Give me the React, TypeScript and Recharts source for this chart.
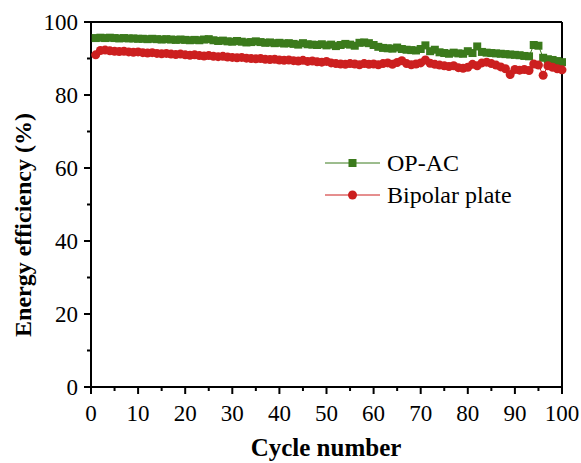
import { LineChart, Line, XAxis, YAxis, ReferenceLine } from "recharts";

const cycles = Array.from({ length: 100 }, (_, i) => i + 1);

const opAc = [
    95.6, 95.7, 95.6, 95.7, 95.6, 95.5, 95.6, 95.5, 95.5, 95.4,
    95.4, 95.3, 95.4, 95.3, 95.2, 95.3, 95.2, 95.1, 95.2, 95.1,
    95.0, 95.1, 95.0, 95.2, 95.3, 95.0, 94.8, 94.9, 94.7, 94.6,
    94.8, 94.6, 94.4, 94.5, 94.7, 94.5, 94.3, 94.4, 94.2, 94.3,
    94.1, 94.2, 94.0, 93.8, 94.2, 93.9, 93.8, 93.7, 93.9, 93.6,
    93.8, 93.4, 93.7, 94.0, 93.8, 93.5, 94.3, 94.4, 94.2, 93.7,
    93.2, 92.9, 92.8, 92.7, 93.0, 92.6, 92.4, 92.3, 92.2, 92.6,
    93.6, 92.0, 92.4, 91.7, 91.5, 91.3, 91.6, 91.4, 91.3, 92.0,
    91.5, 93.3, 91.8, 91.6, 91.5, 91.4, 91.3, 91.2, 91.1, 91.0,
    90.9, 90.7, 90.6, 93.7, 93.5, 90.2, 89.8, 89.6, 89.3, 89.0,
];

const bipolar = [
    91.0, 92.2, 92.3, 92.1, 92.0, 91.9, 92.0, 91.8, 91.7, 91.8,
    91.6, 91.5, 91.6, 91.4, 91.3, 91.4, 91.2, 91.1, 91.2, 91.0,
    90.9, 91.0, 90.8, 90.7, 90.8, 90.6, 90.5, 90.6, 90.4, 90.3,
    90.2, 90.3, 90.1, 90.0, 89.9, 90.0, 89.8, 89.7, 89.8, 89.6,
    89.5, 89.6, 89.4, 89.3, 89.5, 89.2, 89.3, 89.1, 89.0, 89.2,
    88.8, 88.6, 88.5, 88.4, 88.6, 88.5, 88.3, 88.6, 88.4, 88.5,
    88.3, 88.6, 88.8, 88.4, 88.9, 89.4, 88.6, 88.3, 88.5, 88.8,
    89.6, 88.7, 88.4, 88.2, 88.0, 87.8, 88.0, 87.5, 87.3, 87.6,
    88.4, 88.0, 88.8, 89.0, 88.6, 88.2, 87.7, 87.2, 85.6, 87.0,
    86.8, 87.0, 86.7, 88.5, 88.2, 85.4, 88.0, 87.6, 87.2, 86.9,
];

const xTicks = [0, 5, 10, 15, 20, 25, 30, 35, 40, 45, 50, 55, 60, 65, 70, 75, 80, 85, 90, 95, 100];
const yTicks = [0, 10, 20, 30, 40, 50, 60, 70, 80, 90, 100];

const data = cycles.map((c, i) => ({ cycle: c, opAc: opAc[i], bipolar: bipolar[i] }));

const GREEN = "#3b7a1c";
const RED = "#cc1f1f";
const FONT = "'Liberation Serif', 'Times New Roman', serif";

const XTick = ({ x, y, payload }: any) => {
    const major = payload.value % 10 === 0;
    return (
        <g>
            <line x1={x} x2={x} y1={y} y2={y + (major ? 7 : 4)} stroke="#000" strokeWidth={2} />
            {major && (
                <text x={x} y={y + 34} textAnchor="middle" fontSize={23} fontFamily={FONT} fill="#000">
                    {payload.value}
                </text>
            )}
        </g>
    );
};

const YTick = ({ x, y, payload }: any) => {
    const major = payload.value % 20 === 0;
    return (
        <g>
            <line x1={x} x2={x - (major ? 7 : 4)} y1={y} y2={y} stroke="#000" strokeWidth={2} />
            {major && (
                <text x={x - 13} y={y + 8} textAnchor="end" fontSize={23} fontFamily={FONT} fill="#000">
                    {payload.value}
                </text>
            )}
        </g>
    );
};

const Square = ({ cx, cy }: any) => <rect x={cx - 4} y={cy - 4} width={8} height={8} fill={GREEN} />;

const LegendBox = () => (
    <svg width={240} height={70} style={{ position: "absolute", left: 325, top: 150, overflow: "visible" }}>
        <line x1={0} x2={55} y1={13} y2={13} stroke={GREEN} strokeWidth={1} />
        <rect x={23.5} y={9} width={8} height={8} fill={GREEN} />
        <text x={62} y={21} fontSize={24} fontFamily={FONT} fill="#000">OP-AC</text>
        <line x1={0} x2={55} y1={45} y2={45} stroke={RED} strokeWidth={1} />
        <circle cx={27.5} cy={45} r={4.5} fill={RED} />
        <text x={62} y={53} fontSize={24} fontFamily={FONT} fill="#000">Bipolar plate</text>
    </svg>
);

export default function App() {
    return (
        <div style={{ position: "absolute", left: 0, top: 0, width: 581, height: 463, background: "#fff" }}>
            <LineChart width={581} height={463} data={data} margin={{ top: 22, right: 19, left: 0, bottom: 0 }}>
                <XAxis
                    dataKey="cycle"
                    type="number"
                    domain={[0, 100]}
                    ticks={xTicks}
                    interval={0}
                    height={76}
                    tickSize={0}
                    tickMargin={0}
                    tickLine={false}
                    tick={<XTick />}
                    axisLine={{ stroke: "#000", strokeWidth: 2 }}
                    label={{
                        content: () => (
                            <text x={326} y={456} textAnchor="middle" fontSize={25} fontWeight="bold" fontFamily={FONT} fill="#000">
                                Cycle number
                            </text>
                        ),
                    }}
                />
                <YAxis
                    type="number"
                    domain={[0, 100]}
                    ticks={yTicks}
                    interval={0}
                    width={91}
                    tickSize={0}
                    tickMargin={0}
                    tickLine={false}
                    tick={<YTick />}
                    axisLine={{ stroke: "#000", strokeWidth: 2 }}
                    label={{
                        content: () => (
                            <text
                                x={31}
                                y={225}
                                transform="rotate(-90 31 225)"
                                textAnchor="middle"
                                fontSize={24}
                                fontWeight="bold"
                                fontFamily={FONT}
                                fill="#000"
                            >
                                Energy efficiency (%)
                            </text>
                        ),
                    }}
                />
                <ReferenceLine y={100} stroke="#000" strokeWidth={2} />
                <ReferenceLine x={100} stroke="#000" strokeWidth={2} />
                <Line dataKey="opAc" stroke={GREEN} strokeWidth={1} dot={<Square />} isAnimationActive={false} name="OP-AC" />
                <Line dataKey="bipolar" stroke={RED} strokeWidth={1} dot={{ r: 4.5, fill: RED, stroke: "none" }} isAnimationActive={false} name="Bipolar plate" />
            </LineChart>
            <LegendBox />
        </div>
    );
}
